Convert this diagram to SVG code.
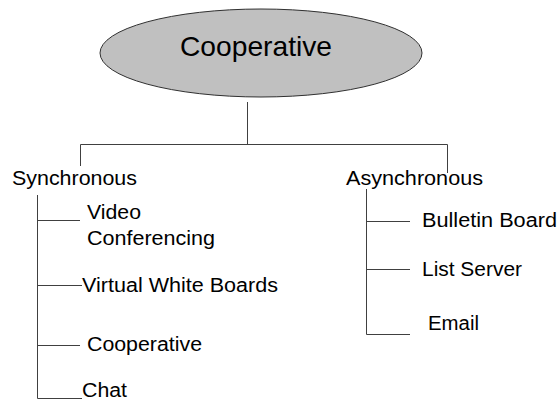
<svg xmlns="http://www.w3.org/2000/svg" width="558" height="400" viewBox="0 0 558 400">
  <style>
    .lbl { font-family: "Liberation Sans", Arial, Helvetica, sans-serif; font-size: 20px; fill: #000; }
    .title { font-family: "Liberation Sans", Arial, Helvetica, sans-serif; font-size: 28px; fill: #000; }
    .conn { stroke: #404040; stroke-width: 1; fill: none; }
  </style>
  <rect x="0" y="0" width="558" height="400" fill="#ffffff"/>
  <g id="connectors">
    <path class="conn" d="M247.5 102 V144.5 M80.5 166 V144.5 H447.5 V173"/>
    <path class="conn" d="M37.5 195 V398.5 H82 M37.5 220.5 H80 M37.5 285.5 H82 M37.5 345.5 H80"/>
    <path class="conn" d="M366.5 189 V334.5 H410 M366.5 221.5 H410 M366.5 269.5 H410"/>
  </g>
  <g id="root">
    <ellipse cx="261" cy="53" rx="161" ry="44" fill="#c0c0c0" stroke="#303030" stroke-width="1"/>
    <text class="title" x="180" y="56" textLength="152" lengthAdjust="spacingAndGlyphs">Cooperative</text>
  </g>
  <g id="synchronous">
    <text class="lbl" x="12" y="185" textLength="125" lengthAdjust="spacingAndGlyphs">Synchronous</text>
  </g>
  <g id="asynchronous">
    <text class="lbl" x="346" y="185" textLength="137" lengthAdjust="spacingAndGlyphs">Asynchronous</text>
  </g>
  <g id="video-conferencing">
    <text class="lbl" x="87" y="219" textLength="54" lengthAdjust="spacingAndGlyphs">Video</text>
    <text class="lbl" x="87" y="245" textLength="128" lengthAdjust="spacingAndGlyphs">Conferencing</text>
  </g>
  <g id="virtual-white-boards">
    <text class="lbl" x="82" y="292" textLength="196" lengthAdjust="spacingAndGlyphs">Virtual White Boards</text>
  </g>
  <g id="cooperative-sub">
    <text class="lbl" x="87" y="351" textLength="115" lengthAdjust="spacingAndGlyphs">Cooperative</text>
  </g>
  <g id="chat">
    <text class="lbl" x="82" y="397" textLength="45" lengthAdjust="spacingAndGlyphs">Chat</text>
  </g>
  <g id="bulletin-board">
    <text class="lbl" x="422" y="227" textLength="135" lengthAdjust="spacingAndGlyphs">Bulletin Board</text>
  </g>
  <g id="list-server">
    <text class="lbl" x="422" y="276" textLength="100" lengthAdjust="spacingAndGlyphs">List Server</text>
  </g>
  <g id="email">
    <text class="lbl" x="428" y="330" textLength="51" lengthAdjust="spacingAndGlyphs">Email</text>
  </g>
</svg>
